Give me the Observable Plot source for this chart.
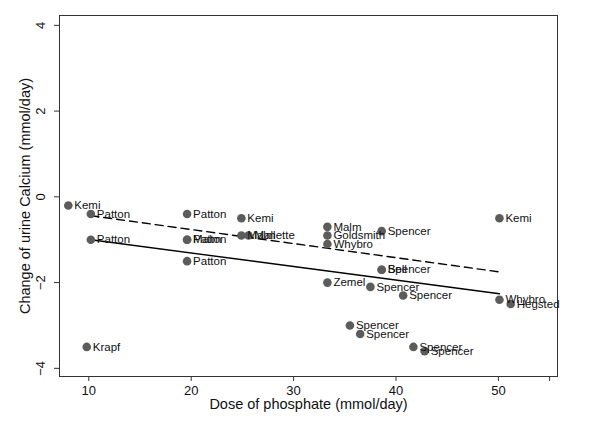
<!DOCTYPE html>
<html>
<head>
<meta charset="utf-8">
<script src="https://cdn.jsdelivr.net/npm/d3@7"></script>
<script src="https://cdn.jsdelivr.net/npm/@observablehq/plot@0.6"></script>
<style>
  html, body { margin: 0; padding: 0; background: #fff; }
  svg { font-family: "Liberation Sans", Arial, sans-serif; }
</style>
</head>
<body>
<div id="chart"></div>
<script>
const studies = ["Kemi","Patton","Patton","Krapf","Patton","Malm","Patton","Patton","Kemi","Malm","Mallette","Malm","Goldsmith","Whybro","Spencer","Bell","Spencer","Zemel","Spencer","Spencer","Whybro","Hegsted","Kemi","Spencer","Spencer","Spencer","Spencer"];
const doses = [8.0, 10.2, 10.2, 9.8, 19.6, 19.6, 19.6, 19.6, 24.9, 24.9, 25.6, 33.3, 33.3, 33.3, 38.6, 38.6, 38.6, 33.3, 37.5, 40.7, 50.1, 51.2, 50.1, 35.5, 36.5, 41.7, 42.8];
const changes = [-0.2, -0.4, -1.0, -3.5, -0.4, -1.0, -1.0, -1.5, -0.5, -0.9, -0.9, -0.7, -0.9, -1.1, -0.8, -1.7, -1.7, -2.0, -2.1, -2.3, -2.4, -2.5, -0.5, -3.0, -3.2, -3.5, -3.6];

const fitDoses = [10.2, 50.1];
const fitDashed = [-0.44, -1.75];
const fitSolid = [-1.0, -2.26];

const xTicks = [10, 20, 30, 40, 50, 55];
const xTickLabels = ["10", "20", "30", "40", "50", ""];
const yTicks = [-4, -2, 0, 2, 4];
const yTickLabels = ["\u22124", "\u22122", "0", "2", "4"];

const xTitle = "Dose of phosphate (mmol/day)";
const yTitle = "Change of urine Calcium (mmol/day)";

const points = studies.map((s, i) => ({study: s, dose: doses[i], change: changes[i]}));
const dashed = fitDoses.map((d, i) => ({dose: d, fit: fitDashed[i]}));
const solid = fitDoses.map((d, i) => ({dose: d, fit: fitSolid[i]}));
const yLab = yTicks.map((t, i) => ({t, label: yTickLabels[i]}));

const plot = Plot.plot({
  width: 600,
  height: 436,
  marginLeft: 59,
  marginRight: 43,
  marginTop: 15,
  marginBottom: 60,
  style: {fontFamily: "'Liberation Sans', Arial, sans-serif", background: "#fff"},
  x: {domain: [7.14, 55.77]},
  y: {domain: [-4.19, 4.23]},
  marks: [
    Plot.axisX({ticks: xTicks, tickFormat: (d) => xTickLabels[xTicks.indexOf(d)], tickSize: 5, tickPadding: 4, fontSize: 13, stroke: "#333", color: "#111", label: null}),
    Plot.axisY({ticks: yTicks, tickSize: 5, tickFormat: () => "", stroke: "#333", label: null}),
    Plot.text(yLab, {y: "t", text: "label", frameAnchor: "left", rotate: -90, dx: -19, fontSize: 13, fill: "#111", textAnchor: "middle"}),
    Plot.text([xTitle], {text: d => d, frameAnchor: "bottom", dy: 32, fontSize: 14.5, fill: "#111", textAnchor: "middle"}),
    Plot.text([yTitle], {text: d => d, frameAnchor: "left", rotate: -90, dx: -34, fontSize: 14.5, fill: "#111", textAnchor: "middle"}),
    Plot.frame({stroke: "#333", strokeWidth: 1}),
    Plot.line(dashed, {x: "dose", y: "fit", stroke: "#000", strokeWidth: 1.4, strokeDasharray: "8,5"}),
    Plot.line(solid, {x: "dose", y: "fit", stroke: "#000", strokeWidth: 1.4}),
    Plot.dot(points, {x: "dose", y: "change", r: 4.3, fill: "#5c5c5c", stroke: "none"}),
    Plot.text(points, {x: "dose", y: "change", text: "study", textAnchor: "start", dx: 6, fontSize: 11.5, fill: "#111"})
  ]
});
document.getElementById("chart").appendChild(plot);
</script>
</body>
</html>
